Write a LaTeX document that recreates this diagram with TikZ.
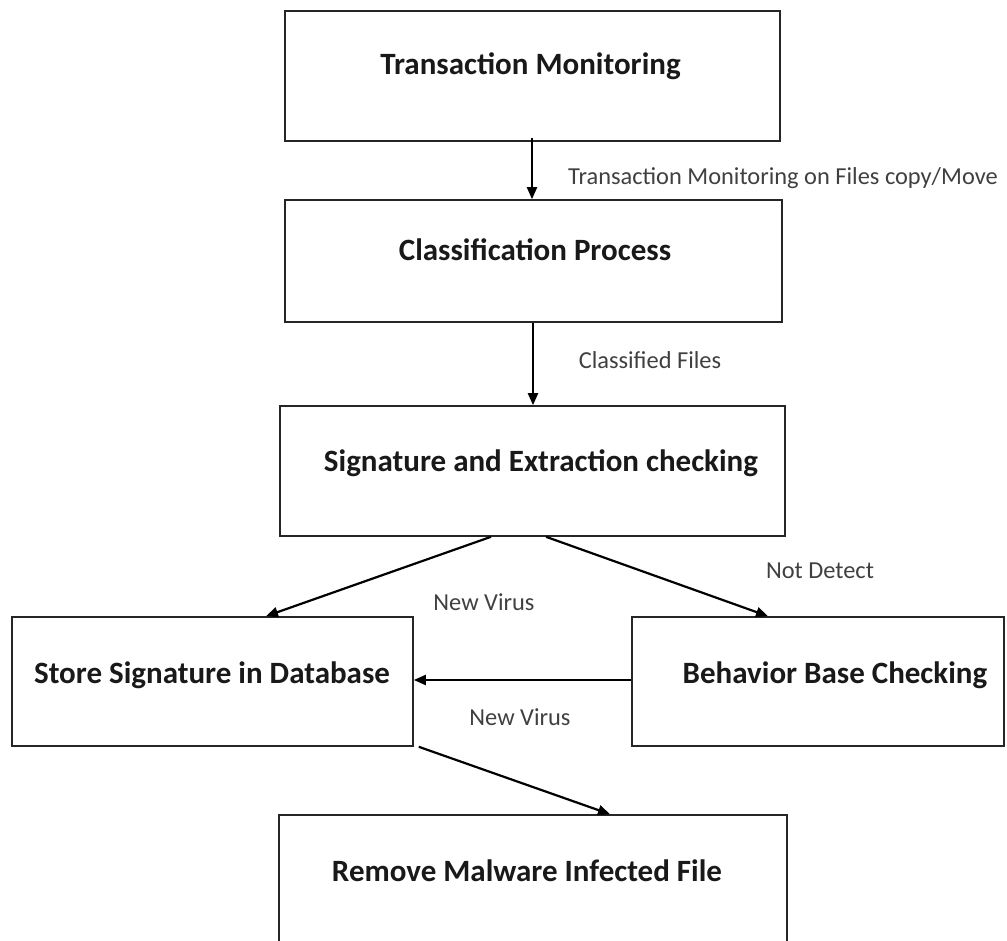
\documentclass[tikz,border=0pt]{standalone}
\usepackage{fontspec}
\setmainfont{Carlito}
\usetikzlibrary{arrows.meta}
\begin{document}
\begin{tikzpicture}[x=1pt,y=-1pt,
  box/.style={draw=black!85,line width=1.6pt,rectangle,inner sep=0pt},
  title/.style={font=\fontsize{31}{36}\selectfont\bfseries,inner sep=0pt,text=black!90},
  lab/.style={font=\fontsize{24.4}{28}\selectfont,text=black!75,inner sep=0pt},
  arr/.style={line width=2.2pt,-{Triangle[length=12pt,width=10pt]}}]
\clip (0,0) rectangle (1007,941);
\fill[white] (0,0) rectangle (1007,941);
% boxes
\node[box,minimum width=495pt,minimum height=130pt] (b1) at (532.5,76) {};
\node[box,minimum width=497pt,minimum height=122pt] (b2) at (533.5,261) {};
\node[box,minimum width=505pt,minimum height=130pt] (b3) at (532.5,471) {};
\node[box,minimum width=401pt,minimum height=129pt] (b4) at (212.5,681.5) {};
\node[box,minimum width=372pt,minimum height=129pt] (b5) at (818,681.5) {};
\node[box,minimum width=508pt,minimum height=150pt] (b6) at (533,890) {};
% titles
\node[title] (t1) at (530.5,66) {Transaction Monitoring};
\node[title] (t2) at (535,250) {Classification Process};
\node[title] (t3) at (541,463) {Signature and Extraction checking};
\node[title] (t4) at (212,675) {Store Signature in Database};
\node[title] (t5) at (835,675) {Behavior Base Checking};
\node[title] (t6) at (527,871) {Remove Malware Infected File};
% labels
\node[lab] (l1) at (783,178) {Transaction Monitoring on Files copy/Move};
\node[lab] (l2) at (650,360) {Classified Files};
\node[lab] (l3) at (484,602) {New Virus};
\node[lab] (l4) at (820,571) {Not Detect};
\node[lab] (l5) at (520,717) {New Virus};
% arrows
\draw[arr] ([yshift=4pt]b1.south -| 532,0) -- (b2.north -| 532,0);
\draw[arr] (b2.south -| 533,0) -- (b3.north -| 533,0);
\draw[arr] (b3.south -| 491,0) -- (b4.north -| 266,0);
\draw[arr] (b3.south -| 546,0) -- (b5.north -| 768,0);
\draw[arr] (b5.west |- 0,680) -- (b4.east |- 0,680);
\draw[arr] ([xshift=5pt]b4.south east) -- (b6.north -| 610,0);
\end{tikzpicture}
\end{document}
